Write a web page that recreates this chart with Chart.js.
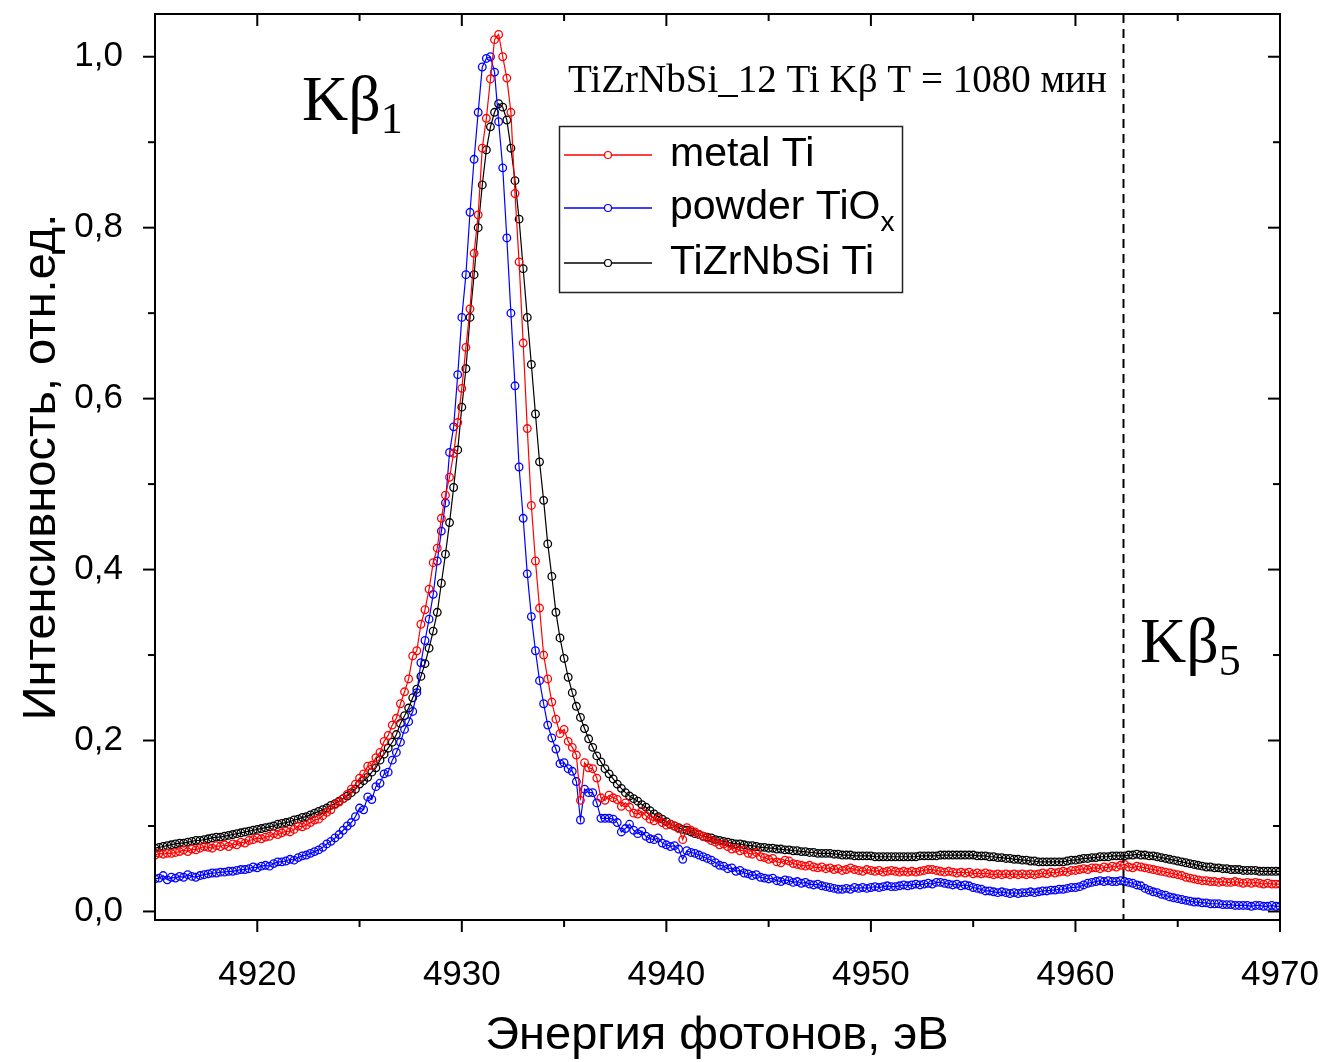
<!DOCTYPE html>
<html>
<head>
<meta charset="utf-8">
<script src="https://cdn.jsdelivr.net/npm/chart.js@4.4.1/dist/chart.umd.min.js"></script>
<style>
  html, body { margin: 0; padding: 0; background: #fff; }
  canvas { display: block; }
</style>
</head>
<body>
<canvas id="spectrum" width="1325" height="1062"></canvas>
<script>
// ====== Data (Ti Kβ spectra, 0.2 eV step from 4915 to 4970 eV) ======
const eStart = 4915, eStep = 0.2, nPts = 276;
const energy = Array.from({ length: nPts }, (_, i) => +(eStart + i * eStep).toFixed(1));

const metalTi = [
  0.066, 0.068, 0.067, 0.068, 0.068,  0.069, 0.070, 0.072, 0.070, 0.073,
  0.072, 0.074, 0.076, 0.075, 0.074,  0.077, 0.076, 0.078, 0.076, 0.079,
  0.078, 0.081, 0.080, 0.083, 0.084,  0.086, 0.085, 0.087, 0.088, 0.091,
  0.090, 0.092, 0.094, 0.093, 0.096,  0.100, 0.099, 0.101, 0.104, 0.107,
  0.108, 0.112, 0.116, 0.119, 0.125,  0.128, 0.132, 0.137, 0.143, 0.149,
  0.156, 0.161, 0.170, 0.171, 0.180,  0.186, 0.199, 0.206, 0.218, 0.226,
  0.243, 0.257, 0.272, 0.299, 0.305,  0.336, 0.353, 0.377, 0.408, 0.425,
  0.460, 0.487, 0.508, 0.536, 0.572,  0.612, 0.660, 0.705, 0.770, 0.815,
  0.893, 0.928, 0.974, 1.020, 1.026,  1.000, 0.975, 0.935, 0.840, 0.760,
  0.665, 0.565, 0.475, 0.410, 0.355,  0.300, 0.272, 0.245, 0.225, 0.208,
  0.213, 0.199, 0.192, 0.183, 0.130,  0.174, 0.168, 0.167, 0.156, 0.133,
  0.130, 0.136, 0.133, 0.131, 0.123,  0.127, 0.122, 0.115, 0.114, 0.117,
  0.112, 0.108, 0.106, 0.109, 0.104,  0.101, 0.102, 0.100, 0.097, 0.084,
  0.098, 0.095, 0.093, 0.090, 0.088,  0.086, 0.083, 0.081, 0.078, 0.079,
  0.076, 0.073, 0.074, 0.071, 0.072,  0.068, 0.067, 0.069, 0.064, 0.063,
  0.061, 0.062, 0.058, 0.057, 0.060,  0.059, 0.056, 0.055, 0.054, 0.053,
  0.054, 0.052, 0.051, 0.052, 0.050,  0.051, 0.049, 0.050, 0.048, 0.049,
  0.051, 0.049, 0.048, 0.047, 0.049,  0.048, 0.047, 0.048, 0.046, 0.047,
  0.048, 0.047, 0.046, 0.047, 0.046,  0.047, 0.046, 0.047, 0.048, 0.049,
  0.049, 0.048, 0.047, 0.046, 0.047,  0.046, 0.045, 0.046, 0.045, 0.046,
  0.044, 0.045, 0.044, 0.045, 0.044,  0.043, 0.044, 0.043, 0.044, 0.043,
  0.044, 0.043, 0.044, 0.043, 0.044,  0.043, 0.044, 0.045, 0.044, 0.046,
  0.045, 0.046, 0.047, 0.046, 0.048,  0.048, 0.049, 0.050, 0.049, 0.051,
  0.051, 0.050, 0.052, 0.051, 0.053,  0.052, 0.054, 0.055, 0.052, 0.051,
  0.053, 0.052, 0.051, 0.050, 0.049,  0.048, 0.047, 0.046, 0.045, 0.044,
  0.043, 0.042, 0.040, 0.039, 0.038,  0.037, 0.036, 0.036, 0.035, 0.035,
  0.034, 0.035, 0.034, 0.034, 0.035,  0.034, 0.033, 0.034, 0.033, 0.034,
  0.033, 0.032, 0.033, 0.032, 0.032,  0.032
];

const powderTiOx = [
  0.038, 0.039, 0.042, 0.037, 0.040,  0.039, 0.041, 0.040, 0.043, 0.041,
  0.040, 0.042, 0.043, 0.044, 0.045,  0.045, 0.046, 0.046, 0.047, 0.047,
  0.048, 0.049, 0.049, 0.050, 0.052,  0.051, 0.053, 0.054, 0.053, 0.056,
  0.058, 0.058, 0.059, 0.061, 0.060,  0.063, 0.065, 0.066, 0.068, 0.070,
  0.072, 0.075, 0.079, 0.082, 0.086,  0.090, 0.095, 0.100, 0.104, 0.111,
  0.121, 0.119, 0.134, 0.131, 0.146,  0.150, 0.161, 0.163, 0.177, 0.186,
  0.198, 0.213, 0.222, 0.234, 0.256,  0.291, 0.317, 0.342, 0.371, 0.410,
  0.445, 0.478, 0.537, 0.567, 0.628,  0.695, 0.745, 0.818, 0.880, 0.935,
  0.988, 0.998, 1.000, 0.982, 0.924,  0.870, 0.788, 0.700, 0.615, 0.520,
  0.460, 0.395, 0.345, 0.305, 0.270,  0.243, 0.218, 0.203, 0.190, 0.173,
  0.174, 0.167, 0.164, 0.152, 0.107,  0.143, 0.139, 0.139, 0.127, 0.109,
  0.109, 0.109, 0.108, 0.104, 0.093,  0.097, 0.102, 0.095, 0.091, 0.094,
  0.088, 0.085, 0.084, 0.086, 0.080,  0.078, 0.076, 0.077, 0.073, 0.061,
  0.071, 0.069, 0.068, 0.066, 0.064,  0.062, 0.060, 0.057, 0.054, 0.053,
  0.050, 0.051, 0.047, 0.048, 0.045,  0.044, 0.042, 0.043, 0.040, 0.039,
  0.038, 0.039, 0.036, 0.035, 0.037,  0.036, 0.034, 0.035, 0.033, 0.034,
  0.032, 0.031, 0.032, 0.030, 0.029,  0.028, 0.027, 0.026, 0.026, 0.027,
  0.026, 0.028, 0.027, 0.028, 0.027,  0.028, 0.029, 0.028, 0.029, 0.030,
  0.029, 0.029, 0.030, 0.031, 0.030,  0.031, 0.032, 0.031, 0.032, 0.033,
  0.032, 0.034, 0.034, 0.033, 0.032,  0.031, 0.032, 0.030, 0.031, 0.030,
  0.028, 0.027, 0.026, 0.024, 0.024,  0.023, 0.022, 0.023, 0.022, 0.021,
  0.022, 0.021, 0.022, 0.022, 0.023,  0.022, 0.023, 0.024, 0.024, 0.025,
  0.025, 0.026, 0.026, 0.027, 0.028,  0.028, 0.029, 0.031, 0.033, 0.034,
  0.035, 0.036, 0.035, 0.036, 0.035,  0.035, 0.036, 0.035, 0.034, 0.033,
  0.031, 0.030, 0.027, 0.025, 0.023,  0.022, 0.020, 0.019, 0.017, 0.016,
  0.015, 0.014, 0.013, 0.012, 0.011,  0.011, 0.010, 0.010, 0.009, 0.009,
  0.009, 0.008, 0.008, 0.008, 0.007,  0.007, 0.007, 0.007, 0.006, 0.007,
  0.007, 0.006, 0.006, 0.007, 0.006,  0.006
];

const tizrnbsiTi = [
  0.074, 0.075, 0.076, 0.077, 0.078,  0.079, 0.080, 0.080, 0.081, 0.082,
  0.083, 0.083, 0.084, 0.085, 0.086,  0.087, 0.087, 0.088, 0.089, 0.090,
  0.091, 0.092, 0.093, 0.094, 0.095,  0.096, 0.097, 0.098, 0.099, 0.100,
  0.102, 0.103, 0.104, 0.105, 0.107,  0.108, 0.110, 0.111, 0.113, 0.115,
  0.117, 0.119, 0.121, 0.124, 0.126,  0.129, 0.132, 0.135, 0.139, 0.143,
  0.149, 0.153, 0.157, 0.163, 0.168,  0.177, 0.184, 0.191, 0.198, 0.207,
  0.220, 0.229, 0.238, 0.250, 0.260,  0.275, 0.290, 0.308, 0.328, 0.350,
  0.384, 0.418, 0.455, 0.496, 0.540,  0.590, 0.635, 0.695, 0.745, 0.800,
  0.850, 0.891, 0.918, 0.935, 0.945,  0.941, 0.926, 0.893, 0.855, 0.810,
  0.752, 0.695, 0.640, 0.582, 0.526,  0.481, 0.430, 0.392, 0.350, 0.320,
  0.296, 0.274, 0.256, 0.240, 0.227,  0.214, 0.202, 0.192, 0.182, 0.175,
  0.167, 0.161, 0.155, 0.149, 0.144,  0.139, 0.135, 0.132, 0.129, 0.125,
  0.122, 0.118, 0.114, 0.111, 0.108,  0.105, 0.102, 0.100, 0.098, 0.096,
  0.095, 0.093, 0.091, 0.090, 0.088,  0.087, 0.086, 0.084, 0.083, 0.082,
  0.081, 0.080, 0.079, 0.079, 0.078,  0.077, 0.077, 0.076, 0.075, 0.075,
  0.074, 0.074, 0.073, 0.073, 0.072,  0.072, 0.071, 0.071, 0.070, 0.070,
  0.069, 0.069, 0.068, 0.068, 0.068,  0.068, 0.067, 0.067, 0.066, 0.066,
  0.066, 0.065, 0.065, 0.065, 0.065,  0.065, 0.064, 0.064, 0.064, 0.064,
  0.064, 0.064, 0.064, 0.064, 0.064,  0.064, 0.064, 0.065, 0.065, 0.065,
  0.065, 0.065, 0.066, 0.066, 0.066,  0.066, 0.066, 0.066, 0.066, 0.066,
  0.066, 0.065, 0.065, 0.065, 0.064,  0.064, 0.063, 0.063, 0.062, 0.062,
  0.061, 0.061, 0.060, 0.060, 0.059,  0.059, 0.058, 0.058, 0.058, 0.058,
  0.058, 0.058, 0.058, 0.059, 0.060,  0.060, 0.061, 0.062, 0.062, 0.063,
  0.063, 0.064, 0.064, 0.064, 0.065,  0.065, 0.065, 0.065, 0.066, 0.066,
  0.067, 0.066, 0.066, 0.065, 0.065,  0.064, 0.063, 0.062, 0.061, 0.060,
  0.059, 0.058, 0.057, 0.056, 0.055,  0.054, 0.053, 0.052, 0.052, 0.051,
  0.051, 0.050, 0.050, 0.049, 0.049,  0.049, 0.048, 0.048, 0.048, 0.048,
  0.047, 0.047, 0.047, 0.047, 0.047,  0.047
];

const xTicks = [4920, 4930, 4940, 4950, 4960, 4970];
const xMinor = [4925, 4935, 4945, 4955, 4965];
const yTicks = [0, 0.2, 0.4, 0.6, 0.8, 1.0];
const yMinor = [0.1, 0.3, 0.5, 0.7, 0.9];
const kb5Energy = 4962.3;

const SANS = '"Liberation Sans", Arial, sans-serif';
const SERIF = '"Liberation Serif", "Times New Roman", serif';

// ====== helpers ======
function series(label, values, color) {
    return {
        label: label,
        data: energy.map((e, i) => ({ x: e, y: values[i] })),
        borderColor: color,
        borderWidth: 1.2,
        pointRadius: 3.8,
        pointBorderWidth: 1.3,
        pointBorderColor: color,
        pointBackgroundColor: 'rgba(0,0,0,0)',
        pointStyle: 'circle',
        tension: 0,
        fill: false
    };
}

// keep the plot box exactly where the reference has it
function noPad(s) {
    s.paddingTop = 0; s.paddingBottom = 0;
    s.paddingLeft = 0; s.paddingRight = 0;
}

// frame, ticks, dashed Kβ5 marker, labels and legend
const decorations = {
    id: 'decorations',
    afterDraw(chart) {
        const { ctx, chartArea: a, scales: { x, y } } = chart;
        ctx.save();
        ctx.strokeStyle = '#000';
        ctx.fillStyle = '#000';

        // dashed line at Kβ5
        const xd = Math.round(x.getPixelForValue(kb5Energy)) + 0.5;
        ctx.lineWidth = 2;
        ctx.setLineDash([9, 6]);
        ctx.beginPath();
        ctx.moveTo(xd, a.top);
        ctx.lineTo(xd, a.bottom);
        ctx.stroke();
        ctx.setLineDash([]);

        // frame
        ctx.lineWidth = 2;
        ctx.strokeRect(a.left, a.top, a.right - a.left, a.bottom - a.top);

        // ticks
        const tick = (x1, y1, x2, y2) => { ctx.beginPath(); ctx.moveTo(x1, y1); ctx.lineTo(x2, y2); ctx.stroke(); };
        yTicks.forEach(v => {
            const p = y.getPixelForValue(v);
            tick(a.left - 12, p, a.left, p);
            tick(a.right - 12, p, a.right, p);
        });
        yMinor.forEach(v => {
            const p = y.getPixelForValue(v);
            tick(a.left - 7, p, a.left, p);
            tick(a.right - 7, p, a.right, p);
        });
        xTicks.forEach(v => {
            const p = x.getPixelForValue(v);
            tick(p, a.bottom, p, a.bottom + 12);
            tick(p, a.top, p, a.top + 12);
        });
        xMinor.forEach(v => {
            const p = x.getPixelForValue(v);
            tick(p, a.bottom, p, a.bottom + 7);
            tick(p, a.top, p, a.top + 7);
        });

        // axis titles
        ctx.textAlign = 'center';
        ctx.textBaseline = 'middle';
        ctx.font = '47px ' + SANS;
        ctx.fillText('Энергия фотонов, эВ', 717, 1036);
        ctx.save();
        ctx.translate(42, 467);
        ctx.rotate(-Math.PI / 2);
        ctx.fillText('Интенсивность, отн.ед.', 0, 0);
        ctx.restore();

        // Kβ labels
        ctx.textAlign = 'left';
        ctx.textBaseline = 'alphabetic';
        const kLabel = (px, py, sub) => {
            ctx.font = '64px ' + SERIF;
            ctx.fillText('Kβ', px, py);
            const w = ctx.measureText('Kβ').width;
            ctx.font = '44px ' + SERIF;
            ctx.fillText(sub, px + w, py + 13);
        };
        kLabel(302, 120, '1');
        kLabel(1140, 662, '5');

        // title
        ctx.font = '39px ' + SERIF;
        ctx.fillText('TiZrNbSi_12 Ti Kβ T = 1080 мин', 568, 92);

        // legend
        ctx.lineWidth = 1.5;
        ctx.strokeStyle = '#222';
        ctx.strokeRect(559.5, 126.5, 343, 166);
        const rows = [155, 208, 263];
        chart.data.datasets.forEach((ds, i) => {
            const ry = rows[i];
            ctx.strokeStyle = ds.borderColor;
            ctx.lineWidth = 1.5;
            tick(564, ry, 652, ry);
            ctx.lineWidth = 1.2;
            ctx.beginPath();
            ctx.arc(608, ry, 3.5, 0, Math.PI * 2);
            ctx.fillStyle = '#fff';
            ctx.fill();
            ctx.stroke();
        });
        ctx.fillStyle = '#000';
        ctx.textBaseline = 'middle';
        ctx.font = '41px ' + SANS;
        ctx.fillText('metal Ti', 670, rows[0]);
        ctx.fillText('powder TiO', 670, rows[1]);
        const wp = ctx.measureText('powder TiO').width;
        ctx.font = '28px ' + SANS;
        ctx.fillText('x', 670 + wp, rows[1] + 15);
        ctx.font = '41px ' + SANS;
        ctx.fillText('TiZrNbSi Ti', 670, rows[2]);

        ctx.restore();
    }
};

// ====== Chart ======
new Chart(document.getElementById('spectrum'), {
    type: 'line',
    data: {
        datasets: [
            series('metal Ti', metalTi, '#ff0000'),
            series('powder TiOx', powderTiOx, '#0000ff'),
            series('TiZrNbSi Ti', tizrnbsiTi, '#000000')
        ]
    },
    options: {
        responsive: false,
        animation: false,
        layout: { padding: { top: 14, right: 45, left: 0, bottom: 0 } },
        plugins: {
            legend: { display: false },
            tooltip: { enabled: false }
        },
        scales: {
            x: {
                type: 'linear',
                min: 4915,
                max: 4970,
                afterBuildTicks: s => { s.ticks = xTicks.map(v => ({ value: v })); },
                afterFit: s => { s.height = 142; noPad(s); },
                grid: { display: false },
                border: { display: false },
                ticks: {
                    color: '#000',
                    font: { family: SANS, size: 35 },
                    padding: 26,
                    maxRotation: 0,
                    callback: v => String(v)
                }
            },
            y: {
                min: -0.01,
                max: 1.05,
                afterBuildTicks: s => { s.ticks = yTicks.map(v => ({ value: v })); },
                afterFit: s => { s.width = 155; noPad(s); },
                grid: { display: false },
                border: { display: false },
                ticks: {
                    color: '#000',
                    font: { family: SANS, size: 35 },
                    padding: 24,
                    callback: v => v.toFixed(1).replace('.', ',')
                }
            }
        }
    },
    plugins: [decorations]
});
</script>
</body>
</html>
